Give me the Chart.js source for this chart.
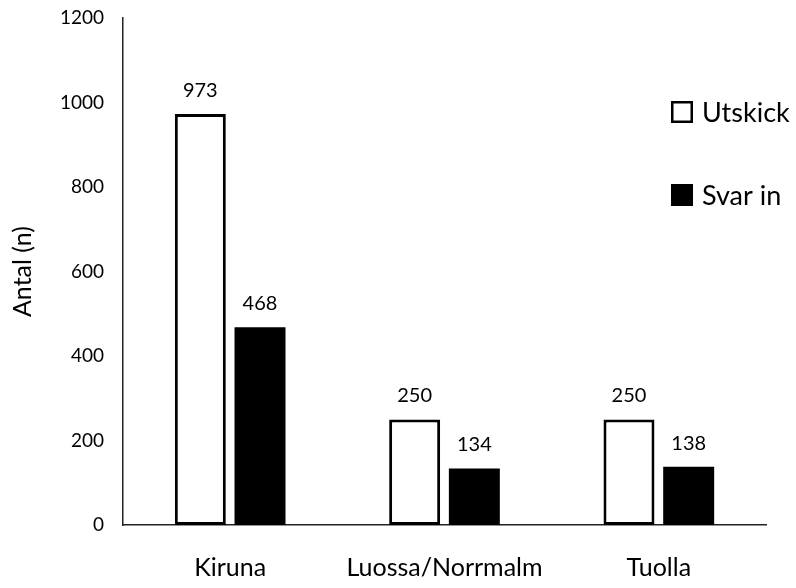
<!DOCTYPE html>
<html lang="sv">
<head>
<meta charset="utf-8">
<title>Utskick och svar</title>
<script src="https://cdn.jsdelivr.net/npm/chart.js@4/dist/chart.umd.min.js"></script>
<style>
    html, body { margin: 0; padding: 0; background: #fff; }
    #wrap { width: 796px; height: 588px; }
</style>
</head>
<body>
<div id="wrap"><canvas id="svar-chart"></canvas></div>
<script>
const omraden = ["Kiruna", "Luossa/Norrmalm", "Tuolla"];
const utskick = [973, 250, 250];
const svarIn = [468, 134, 138];
const yTicks = [0, 200, 400, 600, 800, 1000, 1200];

const FONT = "Lato";

// etiketter ovanfor staplarna
const valueLabels = {
    id: "valueLabels",
    afterDatasetsDraw(chart) {
        const ctx = chart.ctx;
        ctx.save();
        ctx.font = `20px ${FONT}`;
        ctx.fillStyle = "#000";
        ctx.textAlign = "center";
        ctx.textBaseline = "alphabetic";
        chart.data.datasets.forEach((ds, i) => {
            chart.getDatasetMeta(i).data.forEach((bar, j) => {
                ctx.fillText(String(ds.data[j]), bar.x, bar.y - 17);
            });
        });
        ctx.restore();
    },
};

// legend till hoger, ovanpa ritytan
const sideLegend = {
    id: "sideLegend",
    afterDraw(chart) {
        const ctx = chart.ctx;
        const x = 671;
        const rows = [112, 195];
        ctx.save();
        ctx.font = `27px ${FONT}`;
        ctx.textBaseline = "middle";
        ctx.textAlign = "left";
        chart.data.datasets.forEach((ds, i) => {
            const y = rows[i];
            ctx.fillStyle = ds.backgroundColor;
            ctx.fillRect(x, y - 11, 22, 22);
            if (ds.borderWidth) {
                ctx.strokeStyle = ds.borderColor;
                ctx.lineWidth = 2.5;
                ctx.strokeRect(x + 1.25, y - 9.75, 19.5, 19.5);
            }
            ctx.fillStyle = "#000";
            ctx.fillText(ds.label, x + 31, y + 1);
        });
        ctx.restore();
    },
};

function initChart() {
    const el = document.getElementById("svar-chart");
    new Chart(el, {
        type: "bar",
        data: {
            labels: omraden,
            datasets: [
                {
                    label: "Utskick",
                    data: utskick,
                    backgroundColor: "#ffffff",
                    borderColor: "#000000",
                    borderWidth: 3,
                    borderSkipped: false,
                },
                {
                    label: "Svar in",
                    data: svarIn,
                    backgroundColor: "#000000",
                    borderColor: "#000000",
                    borderWidth: 0,
                },
            ],
        },
        options: {
            responsive: true,
            maintainAspectRatio: false,
            animation: false,
            categoryPercentage: 0.557,
            barPercentage: 0.854,
            layout: { padding: { top: 18, right: 30, bottom: 0, left: 0 } },
            plugins: {
                legend: { display: false },
                tooltip: { enabled: false },
            },
            scales: {
                x: {
                    grid: { display: false, drawTicks: false },
                    border: { display: true, color: "#222", width: 1.5 },
                    ticks: {
                        color: "#000",
                        padding: 28,
                        font: { family: FONT, size: 25 },
                    },
                    afterFit: (s) => { s.height = 63; },
                },
                y: {
                    min: 0,
                    max: 1200,
                    afterBuildTicks: (s) => {
                        s.ticks = yTicks.map((v) => ({ value: v }));
                    },
                    grid: { display: false, drawTicks: false },
                    border: { display: true, color: "#222", width: 1.5 },
                    ticks: {
                        color: "#000",
                        padding: 19,
                        font: { family: FONT, size: 19 },
                        callback: (value) => String(value),
                    },
                    title: {
                        display: true,
                        text: "Antal (n)",
                        color: "#000",
                        padding: { top: 8, bottom: 0 },
                        font: { family: FONT, size: 25 },
                    },
                    afterFit: (s) => {
                        s.width = 123;
                        s.paddingTop = 0;
                        s.paddingBottom = 0;
                    },
                },
            },
        },
        plugins: [valueLabels, sideLegend],
    });
}

document.addEventListener("DOMContentLoaded", initChart);
</script>
</body>
</html>
